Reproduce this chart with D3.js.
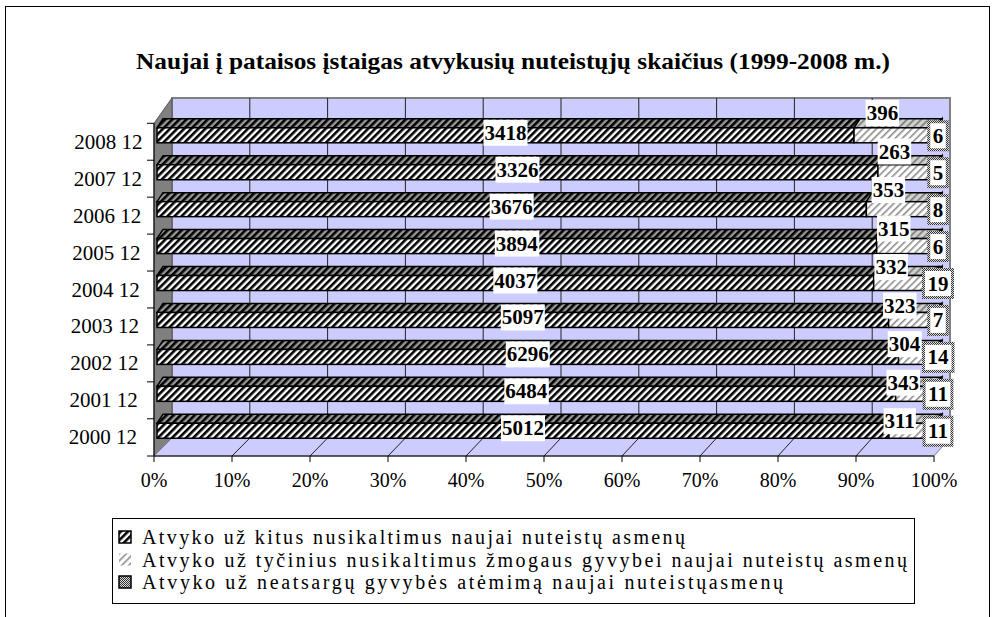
<!DOCTYPE html>
<html>
<head>
<meta charset="utf-8">
<script src="https://cdn.jsdelivr.net/npm/d3@7"></script>
<style>
  body { margin: 0; background: #fff; }
  text { font-family: "Liberation Serif", "Times New Roman", serif; }
</style>
</head>
<body>
<svg id="chart" width="993" height="617"></svg>
<script>
// categories bottom to top
const categories = ["2000 12", "2001 12", "2002 12", "2003 12", "2004 12", "2005 12", "2006 12", "2007 12", "2008 12"];
const kitus = [5012, 6484, 6296, 5097, 4037, 3894, 3676, 3326, 3418];
const tycinius = [311, 343, 304, 323, 332, 315, 353, 263, 396];
const neatsargu = [11, 11, 14, 7, 19, 6, 8, 5, 6];
const xTicks = [0, 0.1, 0.2, 0.3, 0.4, 0.5, 0.6, 0.7, 0.8, 0.9, 1];
const seriesNames = [
  "Atvyko už kitus nusikaltimus naujai nuteistų asmenų",
  "Atvyko už tyčinius nusikaltimus žmogaus gyvybei naujai nuteistų asmenų",
  "Atvyko už neatsargų gyvybės atėmimą naujai nuteistųasmenų"
];
const title = "Naujai į pataisos įstaigas atvykusių nuteistųjų skaičius (1999-2008 m.)";

const rows = categories.map((c, i) => ({cat: c, s0: kitus[i], s1: tycinius[i], s2: neatsargu[i]}));
const stacked = d3.stack().keys(["s0", "s1", "s2"]).offset(d3.stackOffsetExpand)(rows);

const svg = d3.select('#chart');

// patterns
const defs = svg.append('defs');
function stripes(id, bg, fg, w, size) {
  const p = defs.append('pattern').attr('id', id)
    .attr('patternUnits', 'userSpaceOnUse')
    .attr('width', size).attr('height', size)
    .attr('patternTransform', 'rotate(45)');
  p.append('rect').attr('width', size).attr('height', size).attr('fill', bg);
  p.append('rect').attr('width', w).attr('height', size).attr('fill', fg);
}
stripes('p1front', '#fff', '#000', 2.6, 5);
stripes('p1top', '#999', '#000', 2.6, 5);
stripes('p2front', '#fff', '#8c8c8c', 1.6, 5);
stripes('p2top', '#d0d0d0', '#808080', 1.8, 5);
const chk = defs.append('pattern').attr('id', 'p3')
  .attr('patternUnits', 'userSpaceOnUse').attr('width', 2).attr('height', 2);
chk.append('rect').attr('width', 2).attr('height', 2).attr('fill', '#ddd');
chk.append('rect').attr('width', 1).attr('height', 1).attr('fill', '#333');
chk.append('rect').attr('x', 1).attr('y', 1).attr('width', 1).attr('height', 1).attr('fill', '#333');
const fronts = ['url(#p1front)', 'url(#p2front)', 'url(#p3)'];
const tops = ['url(#p1top)', 'url(#p2top)', 'url(#p3)'];

// chart area border
svg.append('rect')
  .attr('x', 5.5).attr('y', 6.5).attr('width', 984).attr('height', 640)
  .attr('fill', 'none').attr('stroke', '#000');

svg.append('text')
  .attr('x', 136).attr('y', 69)
  .attr('textLength', 754).attr('lengthAdjust', 'spacingAndGlyphs')
  .attr('font-size', 24).attr('font-weight', 'bold')
  .text(title);

// scales
const xFront = d3.scaleLinear().domain([0, 1]).range([154, 934]);
const xBack = d3.scaleLinear().domain([0, 1]).range([172, 950]);
const xBar = d3.scaleLinear().domain([0, 1]).range([157, 936]);
const y = d3.scaleBand().domain(categories.slice().reverse()).range([123.3, 455.7]);

const backTop = 98, backBottom = 438, floorY = 456;

// back wall
svg.append('rect')
  .attr('x', xBack(0)).attr('y', backTop)
  .attr('width', xBack(1) - xBack(0)).attr('height', backBottom - backTop)
  .attr('fill', '#ccccff').attr('stroke', '#808080').attr('stroke-width', 2);

svg.append('g').selectAll('line')
  .data(xTicks.slice(1, -1))
  .join('line')
    .attr('x1', (d) => xBack(d)).attr('x2', (d) => xBack(d))
    .attr('y1', backTop).attr('y2', backBottom)
    .attr('stroke', '#222');

// side wall
svg.append('polygon')
  .attr('points', [[xFront(0), y.range()[0]], [xBack(0), backTop], [xBack(0), backBottom], [xFront(0), floorY]].join(' '))
  .attr('fill', '#808080').attr('stroke', '#555');

// floor
svg.append('polygon')
  .attr('points', [[xFront(0), floorY], [xFront(1), floorY], [xBack(1), backBottom], [xBack(0), backBottom]].join(' '))
  .attr('fill', '#ccccff').attr('stroke', '#808080');

svg.append('g').selectAll('line')
  .data(xTicks.slice(1, -1))
  .join('line')
    .attr('x1', (d) => xFront(d)).attr('x2', (d) => xBack(d))
    .attr('y1', floorY).attr('y2', backBottom)
    .attr('stroke', '#222');

// axes
svg.append('line')
  .attr('x1', xFront(0)).attr('x2', xFront(0))
  .attr('y1', y.range()[0]).attr('y2', floorY)
  .attr('stroke', '#000');
svg.append('line')
  .attr('x1', xFront(0)).attr('x2', xFront(1))
  .attr('y1', floorY).attr('y2', floorY)
  .attr('stroke', '#000');

svg.append('g').selectAll('line')
  .data(categories.slice().reverse().map((c) => y(c)).concat([floorY]))
  .join('line')
    .attr('x1', xFront(0) - 7).attr('x2', xFront(0))
    .attr('y1', (d) => d).attr('y2', (d) => d)
    .attr('stroke', '#000');

svg.append('g').selectAll('line')
  .data(xTicks)
  .join('line')
    .attr('x1', (d) => xFront(d)).attr('x2', (d) => xFront(d))
    .attr('y1', floorY).attr('y2', floorY + 6)
    .attr('stroke', '#000');

svg.append('g').selectAll('text')
  .data(xTicks)
  .join('text')
    .attr('x', (d) => xFront(d)).attr('y', 487)
    .attr('text-anchor', 'middle').attr('font-size', 20)
    .text(d3.format('.0%'));

svg.append('g').selectAll('text')
  .data(categories)
  .join('text')
    .attr('x', (d, i) => 137 + i * 0.7)
    .attr('y', (d) => y(d) + y.bandwidth() / 2 + 7)
    .attr('text-anchor', 'end').attr('font-size', 21)
    .text((d) => d);

// 3D bars
const faceH = 15, dx = 6, dy = -9;
const bars = svg.append('g');
stacked.forEach((s, si) => {
  s.forEach((d, i) => {
    const x0 = xBar(d[0]), x1 = xBar(d[1]);
    const yf = y(d.data.cat) + 4.5;
    const g = bars.append('g').attr('stroke', '#000').attr('stroke-width', 1.5);
    g.append('polygon')
      .attr('points', [[x0, yf], [x1, yf], [x1 + dx, yf + dy], [x0 + dx, yf + dy]].join(' '))
      .attr('fill', tops[si]);
    g.append('rect')
      .attr('x', x0).attr('y', yf).attr('width', Math.max(x1 - x0, 0.5)).attr('height', faceH)
      .attr('fill', fronts[si]);
    if (si === 2) {
      g.append('polygon')
        .attr('points', [[x1, yf], [x1 + dx, yf + dy], [x1 + dx, yf + dy + faceH], [x1, yf + faceH]].join(' '))
        .attr('fill', tops[si]);
    }
  });
});

// data labels
const raw = [kitus, tycinius, neatsargu];
const labels = svg.append('g');
stacked.forEach((s, si) => {
  s.forEach((d, i) => {
    const mid = y(d.data.cat) + y.bandwidth() / 2;
    let lx = xBar((d[0] + d[1]) / 2), ly = mid - 9;
    if (si === 1) { lx -= 12; ly = mid - (16 + i * 1.6); }
    if (si === 2) { lx = xBar(d[1]) + 2; ly = mid - 6; }
    const g = labels.append('g');
    const r = g.append('rect');
    const t = g.append('text')
      .attr('x', lx).attr('y', ly + 7)
      .attr('text-anchor', 'middle').attr('font-size', 21).attr('font-weight', 'bold')
      .text(raw[si][i]);
    const b = t.node().getBBox();
    if (si === 2) {
      r.attr('x', b.x - 4).attr('y', ly - 14)
        .attr('width', b.width + 8).attr('height', 28)
        .attr('fill', '#fff')
        .attr('stroke', 'url(#p3)').attr('stroke-width', 3);
    } else {
      r.attr('x', b.x - 1).attr('y', b.y - 1)
        .attr('width', b.width + 2).attr('height', b.height + 2)
        .attr('fill', '#fff');
    }
  });
});

// legend
const legend = svg.append('g');
legend.append('rect')
  .attr('x', 112.5).attr('y', 518.5).attr('width', 802).attr('height', 85)
  .attr('fill', '#fff').attr('stroke', '#000');
const legendEnds = [685, 907, 783];
seriesNames.forEach((name, i) => {
  const cy = 537 + i * 22.5;
  legend.append('rect')
    .attr('x', 119).attr('y', cy - 6).attr('width', 12).attr('height', 12)
    .attr('fill', fronts[i])
    .attr('stroke', i === 1 ? 'none' : '#000').attr('stroke-width', 1.5);
  legend.append('text')
    .attr('x', 142).attr('y', cy + 7)
    .attr('font-size', 20)
    .attr('textLength', legendEnds[i] - 142).attr('lengthAdjust', 'spacing')
    .text(name);
});
</script>
</body>
</html>
